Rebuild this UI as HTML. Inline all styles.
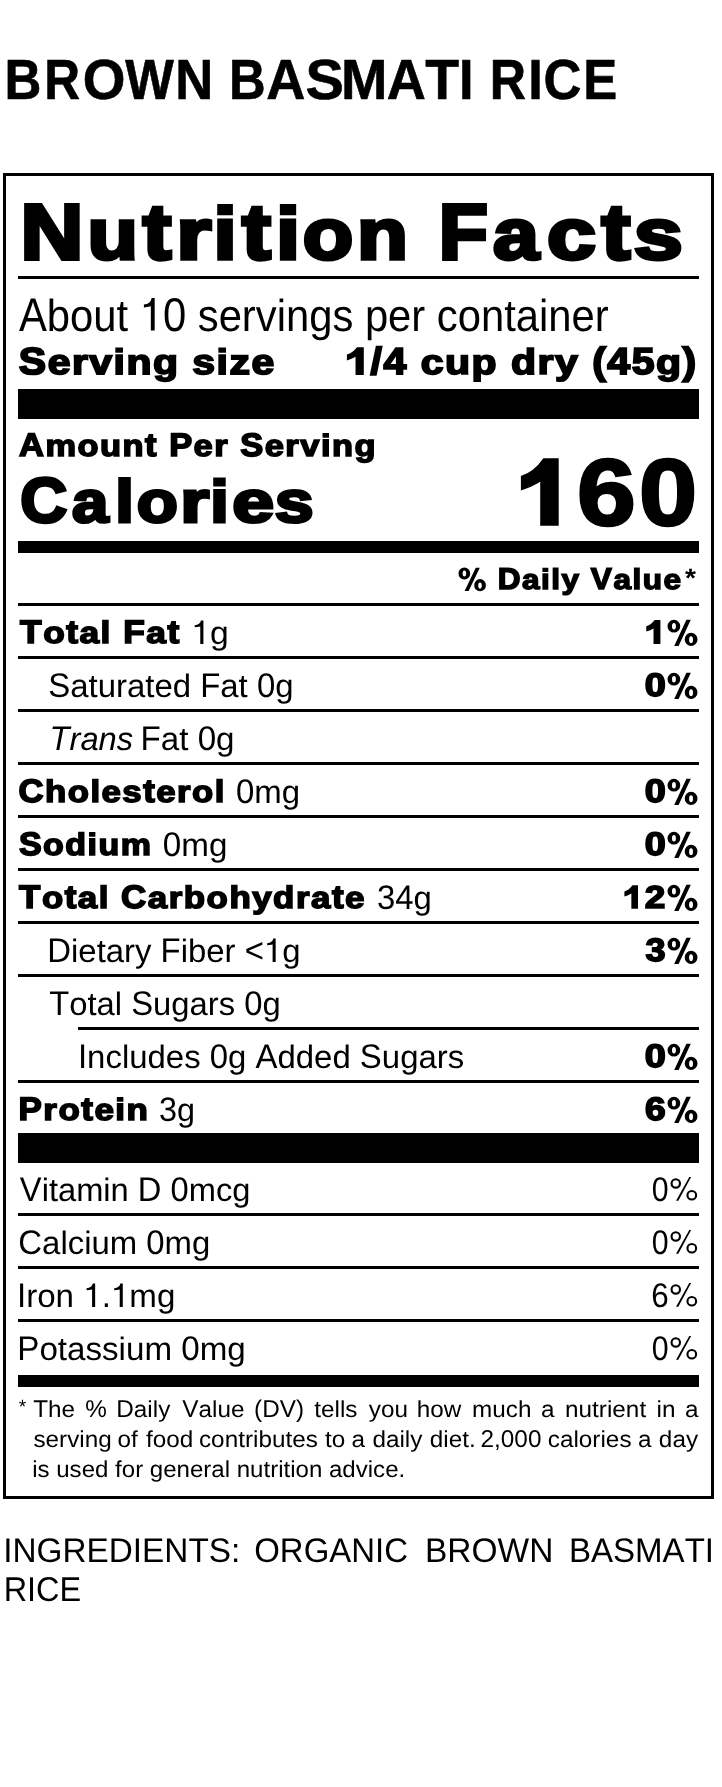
<!DOCTYPE html>
<html><head><meta charset="utf-8"><title>Brown Basmati Rice - Nutrition Facts</title>
<style>
html,body{margin:0;padding:0;background:#fff;width:722px;height:1787px;overflow:hidden}
svg{display:block;will-change:transform}
text{font-family:"Liberation Sans",sans-serif;font-kerning:none;fill:#000;text-rendering:geometricPrecision}
.r{font-weight:normal}
.i{font-weight:normal;font-style:italic}
.b{font-weight:bold;stroke:#000;stroke-miterlimit:3}
.bn{font-weight:bold}
</style></head><body>
<svg width="722" height="1787" viewBox="0 0 722 1787">
<g class="b" font-size="56.54" stroke-width="0.60"><text transform="translate(4.45 99.20) scale(0.9036 1.0000)">B</text><text transform="translate(44.15 99.20) scale(0.8769 1.0000)">R</text><text transform="translate(82.64 99.20) scale(0.9703 1.0000)">O</text><text transform="translate(125.22 99.20) scale(0.9098 1.0000)">W</text><text transform="translate(175.26 99.20) scale(0.9308 1.0000)">N</text><text transform="translate(229.07 99.20) scale(0.8979 1.0000)">B</text><text transform="translate(266.24 99.20) scale(0.9576 1.0000)">A</text><text transform="translate(305.55 99.20) scale(1.0181 1.0000)">S</text><text transform="translate(341.06 99.20) scale(0.9867 1.0000)">M</text><text transform="translate(386.64 99.20) scale(0.9576 1.0000)">A</text><text transform="translate(425.17 99.20) scale(0.9795 1.0000)">T</text><text transform="translate(458.97 99.20) scale(0.9263 1.0000)">I</text><text transform="translate(489.71 99.20) scale(0.8879 1.0000)">R</text><text transform="translate(528.27 99.20) scale(0.9263 1.0000)">I</text><text transform="translate(543.43 99.20) scale(0.9263 1.0000)">C</text><text transform="translate(583.26 99.20) scale(0.9003 1.0000)">E</text></g>
<rect x="4.5" y="174.5" width="708" height="1323" fill="none" stroke="#000" stroke-width="3"/>
<g class="b" font-size="78.64" stroke-width="4.00"><text transform="translate(20.59 258.80) scale(1.1069 1.0000)">N</text><text transform="translate(87.58 258.80) scale(1.0507 0.9120)">u</text><text transform="translate(142.73 258.80) scale(1.0896 1.0000)">t</text><text transform="translate(176.25 258.80) scale(1.1478 0.9120)">r</text><text transform="translate(213.59 258.80) scale(1.0616 0.9325)">i</text><text transform="translate(241.94 258.80) scale(1.1003 1.0000)">t</text><text transform="translate(276.05 258.80) scale(1.1021 0.9325)">i</text><text transform="translate(302.87 258.80) scale(1.0503 0.9120)">o</text><text transform="translate(356.92 258.80) scale(1.0602 0.9120)">n</text><text transform="translate(438.66 258.80) scale(1.0229 1.0000)">F</text><text transform="translate(492.88 258.80) scale(1.0495 0.9120)">a</text><text transform="translate(547.10 258.80) scale(1.1190 0.9120)">c</text><text transform="translate(601.44 258.80) scale(1.1003 1.0000)">t</text><text transform="translate(633.64 258.80) scale(1.1211 0.9120)">s</text></g>
<rect x="18" y="276" width="681" height="3"/>
<path d="M 151.67 298.00 L 154.69 298.00 L 154.69 330.60 L 150.83 330.60 L 150.83 306.15 Q 147.14 307.13 143.91 307.45 L 143.91 304.52 Q 150.59 304.10 151.67 298.00 Z"/>
<g class="r" font-size="47.38"><text transform="translate(18.92 330.60) scale(0.8815 1.0000)">A</text><text transform="translate(46.78 330.60) scale(0.8815 0.9500)">b</text><text transform="translate(70.01 330.60) scale(0.8815 0.9500)">o</text><text transform="translate(93.24 330.60) scale(0.8815 0.9500)">u</text><text transform="translate(116.47 330.60) scale(0.8815 0.9500)">t</text><text transform="translate(162.91 330.60) scale(0.8815 1.0000)">0</text><text transform="translate(197.75 330.60) scale(0.8815 0.9500)">s</text><text transform="translate(218.63 330.60) scale(0.8815 0.9500)">e</text><text transform="translate(241.86 330.60) scale(0.8815 0.9500)">r</text><text transform="translate(255.77 330.60) scale(0.8815 0.9500)">v</text><text transform="translate(276.66 330.60) scale(0.8815 0.9500)">i</text><text transform="translate(285.94 330.60) scale(0.8815 0.9500)">n</text><text transform="translate(309.17 330.60) scale(0.8815 0.9500)">g</text><text transform="translate(332.40 330.60) scale(0.8815 0.9500)">s</text><text transform="translate(364.89 330.60) scale(0.8815 0.9500)">p</text><text transform="translate(388.12 330.60) scale(0.8815 0.9500)">e</text><text transform="translate(411.35 330.60) scale(0.8815 0.9500)">r</text><text transform="translate(436.86 330.60) scale(0.8815 0.9500)">c</text><text transform="translate(457.75 330.60) scale(0.8815 0.9500)">o</text><text transform="translate(480.98 330.60) scale(0.8815 0.9500)">n</text><text transform="translate(504.21 330.60) scale(0.8815 0.9500)">t</text><text transform="translate(515.81 330.60) scale(0.8815 0.9500)">a</text><text transform="translate(539.04 330.60) scale(0.8815 0.9500)">i</text><text transform="translate(548.32 330.60) scale(0.8815 0.9500)">n</text><text transform="translate(571.55 330.60) scale(0.8815 0.9500)">e</text><text transform="translate(594.78 330.60) scale(0.8815 0.9500)">r</text></g>
<g class="b" font-size="37.78" stroke-width="1.91"><text transform="translate(18.86 373.94) scale(1.0835 1.0000)">S</text><text transform="translate(47.66 373.94) scale(1.0835 0.9250)">e</text><text transform="translate(71.92 373.94) scale(1.0835 0.9250)">r</text><text transform="translate(89.35 373.94) scale(1.0835 0.9250)">v</text><text transform="translate(113.61 373.94) scale(1.0835 0.9390)">i</text><text transform="translate(126.48 373.94) scale(1.0835 0.9250)">n</text><text transform="translate(152.99 373.94) scale(1.0835 0.9250)">g</text><text transform="translate(192.36 373.94) scale(1.0835 0.9250)">s</text><text transform="translate(216.62 373.94) scale(1.0835 0.9390)">i</text><text transform="translate(229.49 373.94) scale(1.0835 0.9250)">z</text><text transform="translate(251.46 373.94) scale(1.0835 0.9250)">e</text></g>
<path d="M 356.96 347.20 L 363.80 347.20 L 363.80 374.90 L 355.54 374.90 L 355.54 356.87 Q 351.87 359.04 346.90 360.39 L 346.90 354.46 Q 352.71 352.82 356.96 347.20 Z"/>
<g class="b" font-size="37.52" stroke-width="1.89"><text transform="translate(370.53 373.95) scale(1.0934 1.0000)">/</text><text transform="translate(383.43 373.95) scale(1.0934 1.0000)">4</text><text transform="translate(420.64 373.95) scale(1.0934 0.9250)">c</text><text transform="translate(444.95 373.95) scale(1.0934 0.9250)">u</text><text transform="translate(471.51 373.95) scale(1.0934 0.9250)">p</text><text transform="translate(510.96 373.95) scale(1.0934 0.9530)">d</text><text transform="translate(537.51 373.95) scale(1.0934 0.9250)">r</text><text transform="translate(554.98 373.95) scale(1.0934 0.9250)">y</text><text transform="translate(592.19 373.95) scale(1.0934 1.0000)">(</text><text transform="translate(607.35 373.95) scale(1.0934 1.0000)">4</text><text transform="translate(631.66 373.95) scale(1.0934 1.0000)">5</text><text transform="translate(655.97 373.95) scale(1.0934 0.9250)">g</text><text transform="translate(682.53 373.95) scale(1.0934 1.0000)">)</text></g>
<rect x="18" y="389" width="681" height="30"/>
<g class="b" font-size="32.50" stroke-width="1.64"><text transform="translate(19.01 456.18) scale(1.0595 1.0000)">A</text><text transform="translate(45.38 456.18) scale(1.0595 0.9250)">m</text><text transform="translate(77.50 456.18) scale(1.0595 0.9250)">o</text><text transform="translate(100.03 456.18) scale(1.0595 0.9250)">u</text><text transform="translate(122.57 456.18) scale(1.0595 0.9250)">n</text><text transform="translate(145.10 456.18) scale(1.0595 1.0000)">t</text><text transform="translate(169.14 456.18) scale(1.0595 1.0000)">P</text><text transform="translate(193.60 456.18) scale(1.0595 0.9250)">e</text><text transform="translate(214.26 456.18) scale(1.0595 0.9250)">r</text><text transform="translate(240.22 456.18) scale(1.0595 1.0000)">S</text><text transform="translate(264.69 456.18) scale(1.0595 0.9250)">e</text><text transform="translate(285.34 456.18) scale(1.0595 0.9250)">r</text><text transform="translate(300.24 456.18) scale(1.0595 0.9250)">v</text><text transform="translate(320.90 456.18) scale(1.0595 0.9390)">i</text><text transform="translate(331.96 456.18) scale(1.0595 0.9250)">n</text><text transform="translate(354.50 456.18) scale(1.0595 0.9250)">g</text></g>
<g class="b" font-size="63.08" stroke-width="3.20"><text transform="translate(20.18 522.00) scale(1.0305 1.0000)">C</text><text transform="translate(71.94 522.00) scale(1.0370 0.9290)">a</text><text transform="translate(115.22 522.00) scale(1.0628 0.9530)">l</text><text transform="translate(136.68 522.00) scale(1.0678 0.9290)">o</text><text transform="translate(180.18 522.00) scale(1.1795 0.9290)">r</text><text transform="translate(210.34 522.00) scale(1.0544 0.9410)">i</text><text transform="translate(232.17 522.00) scale(1.1912 0.9290)">e</text><text transform="translate(274.72 522.00) scale(1.1082 0.9290)">s</text></g>
<path d="M 543.39 458.20 L 558.70 458.20 L 558.70 525.80 L 540.22 525.80 L 540.22 481.79 Q 532.01 487.10 520.90 490.38 L 520.90 475.91 Q 533.90 471.92 543.39 458.20 Z"/>
<g class="b" font-size="94.48" stroke-width="2.60"><text transform="translate(576.88 524.50) scale(1.1187 1.0000)">6</text><text transform="translate(638.90 524.50) scale(1.1066 1.0000)">0</text></g>
<rect x="18" y="541" width="681" height="12"/>
<path fill-rule="evenodd" d="M458.50 573.49a5.84 5.69 0 1 0 11.67 0a5.84 5.69 0 1 0 -11.67 0ZM462.61 573.49a1.78 2.94 0 1 0 3.56 0a1.78 2.94 0 1 0 -3.56 0ZM474.23 585.23a5.84 5.87 0 1 0 11.67 0a5.84 5.87 0 1 0 -11.67 0ZM478.23 585.46a1.78 3.08 0 1 0 3.56 0a1.78 3.08 0 1 0 -3.56 0ZM475.76 567.80 479.79 567.80 468.64 591.10 464.61 591.10Z"/>
<g class="b" font-size="30.06" stroke-width="1.52"><text transform="translate(497.69 589.24) scale(1.0497 1.0000)">D</text><text transform="translate(521.97 589.24) scale(1.0497 0.9250)">a</text><text transform="translate(541.02 589.24) scale(1.0497 0.9390)">i</text><text transform="translate(551.29 589.24) scale(1.0497 0.9530)">l</text><text transform="translate(561.56 589.24) scale(1.0497 0.9250)">y</text><text transform="translate(590.87 589.24) scale(1.0497 1.0000)">V</text><text transform="translate(613.42 589.24) scale(1.0497 0.9250)">a</text><text transform="translate(632.47 589.24) scale(1.0497 0.9530)">l</text><text transform="translate(642.73 589.24) scale(1.0497 0.9250)">u</text><text transform="translate(663.51 589.24) scale(1.0497 0.9250)">e</text></g>
<text class="bn" font-size="26.6" transform="translate(684.9 586.5) scale(1.06 1)">*</text>
<rect x="18" y="603" width="681" height="3"/>
<g class="b" font-size="32.50" stroke-width="1.64"><text transform="translate(20.09 643.18) scale(1.0862 1.0000)">T</text><text transform="translate(43.16 643.18) scale(1.0862 0.9250)">o</text><text transform="translate(66.22 643.18) scale(1.0862 1.0000)">t</text><text transform="translate(79.48 643.18) scale(1.0862 0.9250)">a</text><text transform="translate(100.61 643.18) scale(1.0862 0.9530)">l</text><text transform="translate(123.23 643.18) scale(1.0862 1.0000)">F</text><text transform="translate(146.29 643.18) scale(1.0862 0.9250)">a</text><text transform="translate(167.43 643.18) scale(1.0862 1.0000)">t</text></g>
<path d="M 200.96 620.50 L 203.40 620.50 L 203.40 644.00 L 200.28 644.00 L 200.28 626.38 Q 197.31 627.08 194.70 627.32 L 194.70 625.20 Q 200.09 624.89 200.96 620.50 Z"/>
<g class="r" font-size="34.16"><text transform="translate(210.03 644.00) scale(0.9866 0.9500)">g</text></g>
<path d="M 654.69 620.00 L 660.40 620.00 L 660.40 644.00 L 653.51 644.00 L 653.51 628.38 Q 650.45 630.26 646.30 631.42 L 646.30 626.29 Q 651.15 624.87 654.69 620.00 Z"/>
<path fill-rule="evenodd" d="M667.50 626.19a6.39 6.39 0 1 0 12.78 0a6.39 6.39 0 1 0 -12.78 0ZM672.00 626.19a1.95 3.30 0 1 0 3.90 0a1.95 3.30 0 1 0 -3.90 0ZM684.72 639.40a6.39 6.60 0 1 0 12.78 0a6.39 6.60 0 1 0 -12.78 0ZM689.10 639.66a1.95 3.46 0 1 0 3.90 0a1.95 3.46 0 1 0 -3.90 0ZM686.40 619.80 690.81 619.80 678.60 646.00 674.19 646.00Z"/>
<rect x="18" y="656" width="681" height="3"/>
<g class="r" font-size="34.16"><text transform="translate(48.20 697.00) scale(0.9641 1.0000)">S</text><text transform="translate(70.17 697.00) scale(0.9641 0.9500)">a</text><text transform="translate(88.49 697.00) scale(0.9641 0.9500)">t</text><text transform="translate(97.63 697.00) scale(0.9641 0.9500)">u</text><text transform="translate(115.95 697.00) scale(0.9641 0.9500)">r</text><text transform="translate(126.92 697.00) scale(0.9641 0.9500)">a</text><text transform="translate(145.23 697.00) scale(0.9641 0.9500)">t</text><text transform="translate(154.38 697.00) scale(0.9641 0.9500)">e</text><text transform="translate(172.70 697.00) scale(0.9641 0.9500)">d</text><text transform="translate(200.16 697.00) scale(0.9641 1.0000)">F</text><text transform="translate(220.28 697.00) scale(0.9641 0.9500)">a</text><text transform="translate(238.59 697.00) scale(0.9641 0.9500)">t</text><text transform="translate(256.89 697.00) scale(0.9641 1.0000)">0</text><text transform="translate(275.21 697.00) scale(0.9641 0.9500)">g</text></g>
<g class="b" font-size="32.50" stroke-width="1.64"><text transform="translate(644.76 696.18) scale(1.1619 1.0000)">0</text></g>
<path fill-rule="evenodd" d="M667.50 679.19a6.39 6.39 0 1 0 12.78 0a6.39 6.39 0 1 0 -12.78 0ZM672.00 679.19a1.95 3.30 0 1 0 3.90 0a1.95 3.30 0 1 0 -3.90 0ZM684.72 692.40a6.39 6.60 0 1 0 12.78 0a6.39 6.60 0 1 0 -12.78 0ZM689.10 692.66a1.95 3.46 0 1 0 3.90 0a1.95 3.46 0 1 0 -3.90 0ZM686.40 672.80 690.81 672.80 678.60 699.00 674.19 699.00Z"/>
<rect x="18" y="709" width="681" height="3"/>
<g class="i" font-size="34.16"><text transform="translate(49.56 750.00) scale(0.9576 1.0000)">T</text><text transform="translate(69.54 750.00) scale(0.9576 0.9500)">r</text><text transform="translate(80.43 750.00) scale(0.9576 0.9500)">a</text><text transform="translate(98.62 750.00) scale(0.9576 0.9500)">n</text><text transform="translate(116.82 750.00) scale(0.9576 0.9500)">s</text></g>
<g class="r" font-size="34.16"><text transform="translate(140.58 750.00) scale(0.9703 1.0000)">F</text><text transform="translate(160.83 750.00) scale(0.9703 0.9500)">a</text><text transform="translate(179.26 750.00) scale(0.9703 0.9500)">t</text><text transform="translate(197.67 750.00) scale(0.9703 1.0000)">0</text><text transform="translate(216.10 750.00) scale(0.9703 0.9500)">g</text></g>
<rect x="18" y="762" width="681" height="3"/>
<g class="b" font-size="32.50" stroke-width="1.64"><text transform="translate(18.45 802.18) scale(1.0680 1.0000)">C</text><text transform="translate(45.02 802.18) scale(1.0680 0.9530)">h</text><text transform="translate(67.72 802.18) scale(1.0680 0.9250)">o</text><text transform="translate(90.42 802.18) scale(1.0680 0.9530)">l</text><text transform="translate(101.57 802.18) scale(1.0680 0.9250)">e</text><text transform="translate(122.37 802.18) scale(1.0680 0.9250)">s</text><text transform="translate(143.18 802.18) scale(1.0680 1.0000)">t</text><text transform="translate(156.23 802.18) scale(1.0680 0.9250)">e</text><text transform="translate(177.04 802.18) scale(1.0680 0.9250)">r</text><text transform="translate(192.05 802.18) scale(1.0680 0.9250)">o</text><text transform="translate(214.75 802.18) scale(1.0680 0.9530)">l</text></g>
<g class="r" font-size="34.16"><text transform="translate(236.01 803.00) scale(0.9649 1.0000)">0</text><text transform="translate(254.34 803.00) scale(0.9649 0.9500)">m</text><text transform="translate(281.80 803.00) scale(0.9649 0.9500)">g</text></g>
<g class="b" font-size="32.50" stroke-width="1.64"><text transform="translate(644.76 802.18) scale(1.1619 1.0000)">0</text></g>
<path fill-rule="evenodd" d="M667.50 785.19a6.39 6.39 0 1 0 12.78 0a6.39 6.39 0 1 0 -12.78 0ZM672.00 785.19a1.95 3.30 0 1 0 3.90 0a1.95 3.30 0 1 0 -3.90 0ZM684.72 798.40a6.39 6.60 0 1 0 12.78 0a6.39 6.60 0 1 0 -12.78 0ZM689.10 798.66a1.95 3.46 0 1 0 3.90 0a1.95 3.46 0 1 0 -3.90 0ZM686.40 778.80 690.81 778.80 678.60 805.00 674.19 805.00Z"/>
<rect x="18" y="815" width="681" height="3"/>
<g class="b" font-size="32.50" stroke-width="1.64"><text transform="translate(18.88 855.18) scale(1.0460 1.0000)">S</text><text transform="translate(43.05 855.18) scale(1.0460 0.9250)">o</text><text transform="translate(65.32 855.18) scale(1.0460 0.9530)">d</text><text transform="translate(87.59 855.18) scale(1.0460 0.9390)">i</text><text transform="translate(98.53 855.18) scale(1.0460 0.9250)">u</text><text transform="translate(120.80 855.18) scale(1.0460 0.9250)">m</text></g>
<g class="r" font-size="34.16"><text transform="translate(162.80 856.00) scale(0.9728 1.0000)">0</text><text transform="translate(181.28 856.00) scale(0.9728 0.9500)">m</text><text transform="translate(208.96 856.00) scale(0.9728 0.9500)">g</text></g>
<g class="b" font-size="32.50" stroke-width="1.64"><text transform="translate(644.76 855.18) scale(1.1619 1.0000)">0</text></g>
<path fill-rule="evenodd" d="M667.50 838.19a6.39 6.39 0 1 0 12.78 0a6.39 6.39 0 1 0 -12.78 0ZM672.00 838.19a1.95 3.30 0 1 0 3.90 0a1.95 3.30 0 1 0 -3.90 0ZM684.72 851.40a6.39 6.60 0 1 0 12.78 0a6.39 6.60 0 1 0 -12.78 0ZM689.10 851.66a1.95 3.46 0 1 0 3.90 0a1.95 3.46 0 1 0 -3.90 0ZM686.40 831.80 690.81 831.80 678.60 858.00 674.19 858.00Z"/>
<rect x="18" y="868" width="681" height="3"/>
<g class="b" font-size="32.50" stroke-width="1.64"><text transform="translate(19.09 908.18) scale(1.0734 1.0000)">T</text><text transform="translate(41.90 908.18) scale(1.0734 0.9250)">o</text><text transform="translate(64.71 908.18) scale(1.0734 1.0000)">t</text><text transform="translate(77.83 908.18) scale(1.0734 0.9250)">a</text><text transform="translate(98.73 908.18) scale(1.0734 0.9530)">l</text><text transform="translate(121.12 908.18) scale(1.0734 1.0000)">C</text><text transform="translate(147.81 908.18) scale(1.0734 0.9250)">a</text><text transform="translate(168.71 908.18) scale(1.0734 0.9250)">r</text><text transform="translate(183.79 908.18) scale(1.0734 0.9530)">b</text><text transform="translate(206.60 908.18) scale(1.0734 0.9250)">o</text><text transform="translate(229.41 908.18) scale(1.0734 0.9530)">h</text><text transform="translate(252.22 908.18) scale(1.0734 0.9250)">y</text><text transform="translate(273.12 908.18) scale(1.0734 0.9530)">d</text><text transform="translate(295.93 908.18) scale(1.0734 0.9250)">r</text><text transform="translate(311.01 908.18) scale(1.0734 0.9250)">a</text><text transform="translate(331.91 908.18) scale(1.0734 1.0000)">t</text><text transform="translate(345.03 908.18) scale(1.0734 0.9250)">e</text></g>
<g class="r" font-size="34.16"><text transform="translate(376.95 909.00) scale(0.9628 1.0000)">3</text><text transform="translate(395.24 909.00) scale(0.9628 1.0000)">4</text><text transform="translate(413.53 909.00) scale(0.9628 0.9500)">g</text></g>
<path d="M 632.49 885.30 L 638.00 885.30 L 638.00 908.80 L 631.35 908.80 L 631.35 893.50 Q 628.40 895.35 624.40 896.49 L 624.40 891.46 Q 629.08 890.07 632.49 885.30 Z"/>
<g class="b" font-size="31.82" stroke-width="1.61"><text transform="translate(644.65 908.00) scale(1.1614 1.0000)">2</text></g>
<path fill-rule="evenodd" d="M667.50 891.19a6.39 6.39 0 1 0 12.78 0a6.39 6.39 0 1 0 -12.78 0ZM672.00 891.19a1.95 3.30 0 1 0 3.90 0a1.95 3.30 0 1 0 -3.90 0ZM684.72 904.40a6.39 6.60 0 1 0 12.78 0a6.39 6.60 0 1 0 -12.78 0ZM689.10 904.66a1.95 3.46 0 1 0 3.90 0a1.95 3.46 0 1 0 -3.90 0ZM686.40 884.80 690.81 884.80 678.60 911.00 674.19 911.00Z"/>
<rect x="18" y="921" width="681" height="3"/>
<path d="M 273.28 938.50 L 275.66 938.50 L 275.66 962.00 L 272.62 962.00 L 272.62 944.38 Q 269.72 945.08 267.17 945.32 L 267.17 943.20 Q 272.43 942.89 273.28 938.50 Z"/>
<g class="r" font-size="34.16"><text transform="translate(47.30 962.00) scale(0.9627 1.0000)">D</text><text transform="translate(71.05 962.00) scale(0.9627 0.9500)">i</text><text transform="translate(78.35 962.00) scale(0.9627 0.9500)">e</text><text transform="translate(96.64 962.00) scale(0.9627 0.9500)">t</text><text transform="translate(105.78 962.00) scale(0.9627 0.9500)">a</text><text transform="translate(124.06 962.00) scale(0.9627 0.9500)">r</text><text transform="translate(135.01 962.00) scale(0.9627 0.9500)">y</text><text transform="translate(160.59 962.00) scale(0.9627 1.0000)">F</text><text transform="translate(180.68 962.00) scale(0.9627 0.9500)">i</text><text transform="translate(187.98 962.00) scale(0.9627 0.9500)">b</text><text transform="translate(206.27 962.00) scale(0.9627 0.9500)">e</text><text transform="translate(224.56 962.00) scale(0.9627 0.9500)">r</text><text transform="translate(244.64 962.00) scale(0.9627 1.0000)">&lt;</text><text transform="translate(282.13 962.00) scale(0.9627 0.9500)">g</text></g>
<g class="b" font-size="32.50" stroke-width="1.64"><text transform="translate(645.38 961.18) scale(1.1117 1.0000)">3</text></g>
<path fill-rule="evenodd" d="M667.50 944.19a6.39 6.39 0 1 0 12.78 0a6.39 6.39 0 1 0 -12.78 0ZM672.00 944.19a1.95 3.30 0 1 0 3.90 0a1.95 3.30 0 1 0 -3.90 0ZM684.72 957.40a6.39 6.60 0 1 0 12.78 0a6.39 6.60 0 1 0 -12.78 0ZM689.10 957.66a1.95 3.46 0 1 0 3.90 0a1.95 3.46 0 1 0 -3.90 0ZM686.40 937.80 690.81 937.80 678.60 964.00 674.19 964.00Z"/>
<rect x="18" y="974" width="681" height="3"/>
<g class="r" font-size="34.16"><text transform="translate(49.26 1015.00) scale(0.9594 1.0000)">T</text><text transform="translate(69.28 1015.00) scale(0.9594 0.9500)">o</text><text transform="translate(87.51 1015.00) scale(0.9594 0.9500)">t</text><text transform="translate(96.61 1015.00) scale(0.9594 0.9500)">a</text><text transform="translate(114.84 1015.00) scale(0.9594 0.9500)">l</text><text transform="translate(131.22 1015.00) scale(0.9594 1.0000)">S</text><text transform="translate(153.08 1015.00) scale(0.9594 0.9500)">u</text><text transform="translate(171.31 1015.00) scale(0.9594 0.9500)">g</text><text transform="translate(189.53 1015.00) scale(0.9594 0.9500)">a</text><text transform="translate(207.76 1015.00) scale(0.9594 0.9500)">r</text><text transform="translate(218.67 1015.00) scale(0.9594 0.9500)">s</text><text transform="translate(244.16 1015.00) scale(0.9594 1.0000)">0</text><text transform="translate(262.39 1015.00) scale(0.9594 0.9500)">g</text></g>
<rect x="78" y="1027" width="621" height="3"/>
<g class="r" font-size="34.16"><text transform="translate(77.96 1068.00) scale(0.9639 1.0000)">I</text><text transform="translate(87.11 1068.00) scale(0.9639 0.9500)">n</text><text transform="translate(105.42 1068.00) scale(0.9639 0.9500)">c</text><text transform="translate(121.88 1068.00) scale(0.9639 0.9500)">l</text><text transform="translate(129.20 1068.00) scale(0.9639 0.9500)">u</text><text transform="translate(147.51 1068.00) scale(0.9639 0.9500)">d</text><text transform="translate(165.82 1068.00) scale(0.9639 0.9500)">e</text><text transform="translate(184.13 1068.00) scale(0.9639 0.9500)">s</text><text transform="translate(209.74 1068.00) scale(0.9639 1.0000)">0</text><text transform="translate(228.05 1068.00) scale(0.9639 0.9500)">g</text><text transform="translate(255.51 1068.00) scale(0.9639 1.0000)">A</text><text transform="translate(277.47 1068.00) scale(0.9639 0.9500)">d</text><text transform="translate(295.79 1068.00) scale(0.9639 0.9500)">d</text><text transform="translate(314.10 1068.00) scale(0.9639 0.9500)">e</text><text transform="translate(332.41 1068.00) scale(0.9639 0.9500)">d</text><text transform="translate(359.87 1068.00) scale(0.9639 1.0000)">S</text><text transform="translate(381.83 1068.00) scale(0.9639 0.9500)">u</text><text transform="translate(400.14 1068.00) scale(0.9639 0.9500)">g</text><text transform="translate(418.45 1068.00) scale(0.9639 0.9500)">a</text><text transform="translate(436.76 1068.00) scale(0.9639 0.9500)">r</text><text transform="translate(447.73 1068.00) scale(0.9639 0.9500)">s</text></g>
<g class="b" font-size="32.50" stroke-width="1.64"><text transform="translate(644.76 1067.18) scale(1.1619 1.0000)">0</text></g>
<path fill-rule="evenodd" d="M667.50 1050.19a6.39 6.39 0 1 0 12.78 0a6.39 6.39 0 1 0 -12.78 0ZM672.00 1050.19a1.95 3.30 0 1 0 3.90 0a1.95 3.30 0 1 0 -3.90 0ZM684.72 1063.40a6.39 6.60 0 1 0 12.78 0a6.39 6.60 0 1 0 -12.78 0ZM689.10 1063.66a1.95 3.46 0 1 0 3.90 0a1.95 3.46 0 1 0 -3.90 0ZM686.40 1043.80 690.81 1043.80 678.60 1070.00 674.19 1070.00Z"/>
<rect x="18" y="1080" width="681" height="3"/>
<g class="b" font-size="32.50" stroke-width="1.64"><text transform="translate(18.54 1120.18) scale(1.0751 1.0000)">P</text><text transform="translate(43.35 1120.18) scale(1.0751 0.9250)">r</text><text transform="translate(58.45 1120.18) scale(1.0751 0.9250)">o</text><text transform="translate(81.29 1120.18) scale(1.0751 1.0000)">t</text><text transform="translate(94.43 1120.18) scale(1.0751 0.9250)">e</text><text transform="translate(115.36 1120.18) scale(1.0751 0.9390)">i</text><text transform="translate(126.57 1120.18) scale(1.0751 0.9250)">n</text></g>
<g class="r" font-size="34.16"><text transform="translate(158.97 1121.00) scale(0.9481 1.0000)">3</text><text transform="translate(176.98 1121.00) scale(0.9481 0.9500)">g</text></g>
<g class="b" font-size="32.50" stroke-width="1.64"><text transform="translate(644.88 1120.18) scale(1.1432 1.0000)">6</text></g>
<path fill-rule="evenodd" d="M667.50 1103.19a6.39 6.39 0 1 0 12.78 0a6.39 6.39 0 1 0 -12.78 0ZM672.00 1103.19a1.95 3.30 0 1 0 3.90 0a1.95 3.30 0 1 0 -3.90 0ZM684.72 1116.40a6.39 6.60 0 1 0 12.78 0a6.39 6.60 0 1 0 -12.78 0ZM689.10 1116.66a1.95 3.46 0 1 0 3.90 0a1.95 3.46 0 1 0 -3.90 0ZM686.40 1096.80 690.81 1096.80 678.60 1123.00 674.19 1123.00Z"/>
<rect x="18" y="1133" width="681" height="30"/>
<g class="r" font-size="34.16"><text transform="translate(19.86 1201.00) scale(0.9564 1.0000)">V</text><text transform="translate(41.64 1201.00) scale(0.9564 0.9500)">i</text><text transform="translate(48.90 1201.00) scale(0.9564 0.9500)">t</text><text transform="translate(57.98 1201.00) scale(0.9564 0.9500)">a</text><text transform="translate(76.15 1201.00) scale(0.9564 0.9500)">m</text><text transform="translate(103.36 1201.00) scale(0.9564 0.9500)">i</text><text transform="translate(110.61 1201.00) scale(0.9564 0.9500)">n</text><text transform="translate(137.86 1201.00) scale(0.9564 1.0000)">D</text><text transform="translate(170.53 1201.00) scale(0.9564 1.0000)">0</text><text transform="translate(188.69 1201.00) scale(0.9564 0.9500)">m</text><text transform="translate(215.90 1201.00) scale(0.9564 0.9500)">c</text><text transform="translate(232.24 1201.00) scale(0.9564 0.9500)">g</text></g>
<g class="r" font-size="34.16"><text transform="translate(651.72 1201.00) scale(0.8880 1.0000)">0</text></g>
<path fill-rule="evenodd" d="M670.50 1183.45a5.26 5.26 0 1 0 10.52 0a5.26 5.26 0 1 0 -10.52 0ZM672.61 1183.45a3.15 3.13 0 1 0 6.30 0a3.15 3.13 0 1 0 -6.30 0ZM686.41 1195.20a5.39 5.19 0 1 0 10.79 0a5.39 5.19 0 1 0 -10.79 0ZM688.55 1195.20a3.26 3.03 0 1 0 6.51 0a3.26 3.03 0 1 0 -6.51 0ZM689.27 1177.00 691.11 1177.00 678.32 1200.70 676.05 1200.70Z"/>
<rect x="18" y="1213" width="681" height="3"/>
<g class="r" font-size="34.16"><text transform="translate(18.33 1254.00) scale(0.9633 1.0000)">C</text><text transform="translate(42.09 1254.00) scale(0.9633 0.9500)">a</text><text transform="translate(60.39 1254.00) scale(0.9633 0.9500)">l</text><text transform="translate(67.70 1254.00) scale(0.9633 0.9500)">c</text><text transform="translate(84.15 1254.00) scale(0.9633 0.9500)">i</text><text transform="translate(91.46 1254.00) scale(0.9633 0.9500)">u</text><text transform="translate(109.76 1254.00) scale(0.9633 0.9500)">m</text><text transform="translate(146.31 1254.00) scale(0.9633 1.0000)">0</text><text transform="translate(164.61 1254.00) scale(0.9633 0.9500)">m</text><text transform="translate(192.02 1254.00) scale(0.9633 0.9500)">g</text></g>
<g class="r" font-size="34.16"><text transform="translate(651.72 1254.00) scale(0.8880 1.0000)">0</text></g>
<path fill-rule="evenodd" d="M670.50 1236.45a5.26 5.26 0 1 0 10.52 0a5.26 5.26 0 1 0 -10.52 0ZM672.61 1236.45a3.15 3.13 0 1 0 6.30 0a3.15 3.13 0 1 0 -6.30 0ZM686.41 1248.20a5.39 5.19 0 1 0 10.79 0a5.39 5.19 0 1 0 -10.79 0ZM688.55 1248.20a3.26 3.03 0 1 0 6.51 0a3.26 3.03 0 1 0 -6.51 0ZM689.27 1230.00 691.11 1230.00 678.32 1253.70 676.05 1253.70Z"/>
<rect x="18" y="1266" width="681" height="3"/>
<path d="M 92.75 1283.50 L 95.15 1283.50 L 95.15 1307.00 L 92.09 1307.00 L 92.09 1289.38 Q 89.16 1290.08 86.60 1290.32 L 86.60 1288.20 Q 91.90 1287.89 92.75 1283.50 Z"/>
<path d="M 120.39 1283.50 L 122.78 1283.50 L 122.78 1307.00 L 119.72 1307.00 L 119.72 1289.38 Q 116.80 1290.08 114.23 1290.32 L 114.23 1288.20 Q 119.53 1287.89 120.39 1283.50 Z"/>
<g class="r" font-size="34.16"><text transform="translate(16.94 1307.00) scale(0.9701 1.0000)">I</text><text transform="translate(26.15 1307.00) scale(0.9701 0.9500)">r</text><text transform="translate(37.18 1307.00) scale(0.9701 0.9500)">o</text><text transform="translate(55.61 1307.00) scale(0.9701 0.9500)">n</text><text transform="translate(101.67 1307.00) scale(0.9701 1.0000)">.</text><text transform="translate(129.31 1307.00) scale(0.9701 0.9500)">m</text><text transform="translate(156.91 1307.00) scale(0.9701 0.9500)">g</text></g>
<g class="r" font-size="34.16"><text transform="translate(651.30 1307.00) scale(0.9200 1.0000)">6</text></g>
<path fill-rule="evenodd" d="M670.50 1289.45a5.26 5.26 0 1 0 10.52 0a5.26 5.26 0 1 0 -10.52 0ZM672.61 1289.45a3.15 3.13 0 1 0 6.30 0a3.15 3.13 0 1 0 -6.30 0ZM686.41 1301.20a5.39 5.19 0 1 0 10.79 0a5.39 5.19 0 1 0 -10.79 0ZM688.55 1301.20a3.26 3.03 0 1 0 6.51 0a3.26 3.03 0 1 0 -6.51 0ZM689.27 1283.00 691.11 1283.00 678.32 1306.70 676.05 1306.70Z"/>
<rect x="18" y="1319" width="681" height="3"/>
<g class="r" font-size="34.16"><text transform="translate(17.28 1360.00) scale(0.9705 1.0000)">P</text><text transform="translate(39.39 1360.00) scale(0.9705 0.9500)">o</text><text transform="translate(57.83 1360.00) scale(0.9705 0.9500)">t</text><text transform="translate(67.04 1360.00) scale(0.9705 0.9500)">a</text><text transform="translate(85.47 1360.00) scale(0.9705 0.9500)">s</text><text transform="translate(102.05 1360.00) scale(0.9705 0.9500)">s</text><text transform="translate(118.62 1360.00) scale(0.9705 0.9500)">i</text><text transform="translate(125.99 1360.00) scale(0.9705 0.9500)">u</text><text transform="translate(144.43 1360.00) scale(0.9705 0.9500)">m</text><text transform="translate(181.25 1360.00) scale(0.9705 1.0000)">0</text><text transform="translate(199.69 1360.00) scale(0.9705 0.9500)">m</text><text transform="translate(227.30 1360.00) scale(0.9705 0.9500)">g</text></g>
<g class="r" font-size="34.16"><text transform="translate(651.72 1360.00) scale(0.8880 1.0000)">0</text></g>
<path fill-rule="evenodd" d="M670.50 1342.45a5.26 5.26 0 1 0 10.52 0a5.26 5.26 0 1 0 -10.52 0ZM672.61 1342.45a3.15 3.13 0 1 0 6.30 0a3.15 3.13 0 1 0 -6.30 0ZM686.41 1354.20a5.39 5.19 0 1 0 10.79 0a5.39 5.19 0 1 0 -10.79 0ZM688.55 1354.20a3.26 3.03 0 1 0 6.51 0a3.26 3.03 0 1 0 -6.51 0ZM689.27 1336.00 691.11 1336.00 678.32 1359.70 676.05 1359.70Z"/>
<rect x="18" y="1375" width="681" height="12"/>
<text class="r" x="18.7" y="1413.1" font-size="19.1">*</text>
<g class="r" font-size="24.30"><text transform="translate(33.25 1417.40)">T</text><text transform="translate(48.10 1417.40) scale(1.0000 0.9500)">h</text><text transform="translate(61.61 1417.40) scale(1.0000 0.9500)">e</text></g>
<g class="r" font-size="24.30"><text transform="translate(85.36 1417.40)">%</text></g>
<g class="r" font-size="24.30"><text transform="translate(116.28 1417.40)">D</text><text transform="translate(133.83 1417.40) scale(1.0000 0.9500)">a</text><text transform="translate(147.35 1417.40) scale(1.0000 0.9500)">i</text><text transform="translate(152.74 1417.40) scale(1.0000 0.9500)">l</text><text transform="translate(158.14 1417.40) scale(1.0000 0.9500)">y</text></g>
<g class="r" font-size="24.30"><text transform="translate(182.32 1417.40)">V</text><text transform="translate(198.52 1417.40) scale(1.0000 0.9500)">a</text><text transform="translate(212.04 1417.40) scale(1.0000 0.9500)">l</text><text transform="translate(217.44 1417.40) scale(1.0000 0.9500)">u</text><text transform="translate(230.95 1417.40) scale(1.0000 0.9500)">e</text></g>
<g class="r" font-size="24.30"><text transform="translate(254.06 1417.40)">(</text><text transform="translate(262.15 1417.40)">D</text><text transform="translate(279.70 1417.40)">V</text><text transform="translate(295.91 1417.40)">)</text></g>
<g class="r" font-size="24.30"><text transform="translate(314.30 1417.40) scale(1.0000 0.9500)">t</text><text transform="translate(321.05 1417.40) scale(1.0000 0.9500)">e</text><text transform="translate(334.57 1417.40) scale(1.0000 0.9500)">l</text><text transform="translate(339.97 1417.40) scale(1.0000 0.9500)">l</text><text transform="translate(345.36 1417.40) scale(1.0000 0.9500)">s</text></g>
<g class="r" font-size="24.30"><text transform="translate(368.75 1417.40) scale(1.0000 0.9500)">y</text><text transform="translate(380.90 1417.40) scale(1.0000 0.9500)">o</text><text transform="translate(394.42 1417.40) scale(1.0000 0.9500)">u</text></g>
<g class="r" font-size="24.30"><text transform="translate(416.81 1417.40) scale(1.0000 0.9500)">h</text><text transform="translate(430.33 1417.40) scale(1.0000 0.9500)">o</text><text transform="translate(443.84 1417.40) scale(1.0000 0.9500)">w</text></g>
<g class="r" font-size="24.30"><text transform="translate(472.01 1417.40) scale(1.0000 0.9500)">m</text><text transform="translate(492.26 1417.40) scale(1.0000 0.9500)">u</text><text transform="translate(505.77 1417.40) scale(1.0000 0.9500)">c</text><text transform="translate(517.92 1417.40) scale(1.0000 0.9500)">h</text></g>
<g class="r" font-size="24.30"><text transform="translate(541.00 1417.40) scale(1.0000 0.9500)">a</text></g>
<g class="r" font-size="24.30"><text transform="translate(565.08 1417.40) scale(1.0000 0.9500)">n</text><text transform="translate(578.59 1417.40) scale(1.0000 0.9500)">u</text><text transform="translate(592.11 1417.40) scale(1.0000 0.9500)">t</text><text transform="translate(598.86 1417.40) scale(1.0000 0.9500)">r</text><text transform="translate(606.95 1417.40) scale(1.0000 0.9500)">i</text><text transform="translate(612.35 1417.40) scale(1.0000 0.9500)">e</text><text transform="translate(625.87 1417.40) scale(1.0000 0.9500)">n</text><text transform="translate(639.38 1417.40) scale(1.0000 0.9500)">t</text></g>
<g class="r" font-size="24.30"><text transform="translate(656.51 1417.40) scale(1.0000 0.9500)">i</text><text transform="translate(661.90 1417.40) scale(1.0000 0.9500)">n</text></g>
<g class="r" font-size="24.30"><text transform="translate(684.99 1417.40) scale(1.0000 0.9500)">a</text></g>
<g class="r" font-size="24.30"><text transform="translate(33.42 1447.30) scale(1.0000 0.9500)">s</text><text transform="translate(45.57 1447.30) scale(1.0000 0.9500)">e</text><text transform="translate(59.09 1447.30) scale(1.0000 0.9500)">r</text><text transform="translate(67.18 1447.30) scale(1.0000 0.9500)">v</text><text transform="translate(79.33 1447.30) scale(1.0000 0.9500)">i</text><text transform="translate(84.73 1447.30) scale(1.0000 0.9500)">n</text><text transform="translate(98.24 1447.30) scale(1.0000 0.9500)">g</text></g>
<g class="r" font-size="24.30"><text transform="translate(117.55 1447.30) scale(1.0000 0.9500)">o</text><text transform="translate(131.07 1447.30) scale(1.0000 0.9500)">f</text></g>
<g class="r" font-size="24.30"><text transform="translate(145.89 1447.30) scale(1.0000 0.9500)">f</text><text transform="translate(152.64 1447.30) scale(1.0000 0.9500)">o</text><text transform="translate(166.15 1447.30) scale(1.0000 0.9500)">o</text><text transform="translate(179.67 1447.30) scale(1.0000 0.9500)">d</text></g>
<g class="r" font-size="24.30"><text transform="translate(198.96 1447.30) scale(1.0000 0.9500)">c</text><text transform="translate(211.11 1447.30) scale(1.0000 0.9500)">o</text><text transform="translate(224.63 1447.30) scale(1.0000 0.9500)">n</text><text transform="translate(238.14 1447.30) scale(1.0000 0.9500)">t</text><text transform="translate(244.89 1447.30) scale(1.0000 0.9500)">r</text><text transform="translate(252.99 1447.30) scale(1.0000 0.9500)">i</text><text transform="translate(258.38 1447.30) scale(1.0000 0.9500)">b</text><text transform="translate(271.90 1447.30) scale(1.0000 0.9500)">u</text><text transform="translate(285.41 1447.30) scale(1.0000 0.9500)">t</text><text transform="translate(292.16 1447.30) scale(1.0000 0.9500)">e</text><text transform="translate(305.68 1447.30) scale(1.0000 0.9500)">s</text></g>
<g class="r" font-size="24.30"><text transform="translate(324.96 1447.30) scale(1.0000 0.9500)">t</text><text transform="translate(331.71 1447.30) scale(1.0000 0.9500)">o</text></g>
<g class="r" font-size="24.30"><text transform="translate(351.56 1447.30) scale(1.0000 0.9500)">a</text></g>
<g class="r" font-size="24.30"><text transform="translate(372.43 1447.30) scale(1.0000 0.9500)">d</text><text transform="translate(385.94 1447.30) scale(1.0000 0.9500)">a</text><text transform="translate(399.46 1447.30) scale(1.0000 0.9500)">i</text><text transform="translate(404.86 1447.30) scale(1.0000 0.9500)">l</text><text transform="translate(410.26 1447.30) scale(1.0000 0.9500)">y</text></g>
<g class="r" font-size="24.30"><text transform="translate(429.72 1447.30) scale(1.0000 0.9500)">d</text><text transform="translate(443.23 1447.30) scale(1.0000 0.9500)">i</text><text transform="translate(448.63 1447.30) scale(1.0000 0.9500)">e</text><text transform="translate(462.14 1447.30) scale(1.0000 0.9500)">t</text><text transform="translate(468.90 1447.30)">.</text></g>
<g class="r" font-size="24.30"><text transform="translate(480.59 1447.30)">2</text><text transform="translate(494.10 1447.30)">,</text><text transform="translate(500.85 1447.30)">0</text><text transform="translate(514.37 1447.30)">0</text><text transform="translate(527.88 1447.30)">0</text></g>
<g class="r" font-size="24.30"><text transform="translate(547.79 1447.30) scale(1.0000 0.9500)">c</text><text transform="translate(559.94 1447.30) scale(1.0000 0.9500)">a</text><text transform="translate(573.46 1447.30) scale(1.0000 0.9500)">l</text><text transform="translate(578.86 1447.30) scale(1.0000 0.9500)">o</text><text transform="translate(592.37 1447.30) scale(1.0000 0.9500)">r</text><text transform="translate(600.46 1447.30) scale(1.0000 0.9500)">i</text><text transform="translate(605.86 1447.30) scale(1.0000 0.9500)">e</text><text transform="translate(619.38 1447.30) scale(1.0000 0.9500)">s</text></g>
<g class="r" font-size="24.30"><text transform="translate(637.99 1447.30) scale(1.0000 0.9500)">a</text></g>
<g class="r" font-size="24.30"><text transform="translate(658.87 1447.30) scale(1.0000 0.9500)">d</text><text transform="translate(672.38 1447.30) scale(1.0000 0.9500)">a</text><text transform="translate(685.90 1447.30) scale(1.0000 0.9500)">y</text></g>
<g class="r" font-size="24.30"><text transform="translate(32.19 1477.30) scale(0.9898 0.9500)">i</text><text transform="translate(37.53 1477.30) scale(0.9898 0.9500)">s</text><text transform="translate(56.24 1477.30) scale(0.9898 0.9500)">u</text><text transform="translate(69.62 1477.30) scale(0.9898 0.9500)">s</text><text transform="translate(81.64 1477.30) scale(0.9898 0.9500)">e</text><text transform="translate(95.02 1477.30) scale(0.9898 0.9500)">d</text><text transform="translate(115.08 1477.30) scale(0.9898 0.9500)">f</text><text transform="translate(121.76 1477.30) scale(0.9898 0.9500)">o</text><text transform="translate(135.14 1477.30) scale(0.9898 0.9500)">r</text><text transform="translate(149.83 1477.30) scale(0.9898 0.9500)">g</text><text transform="translate(163.20 1477.30) scale(0.9898 0.9500)">e</text><text transform="translate(176.58 1477.30) scale(0.9898 0.9500)">n</text><text transform="translate(189.96 1477.30) scale(0.9898 0.9500)">e</text><text transform="translate(203.33 1477.30) scale(0.9898 0.9500)">r</text><text transform="translate(211.34 1477.30) scale(0.9898 0.9500)">a</text><text transform="translate(224.72 1477.30) scale(0.9898 0.9500)">l</text><text transform="translate(236.74 1477.30) scale(0.9898 0.9500)">n</text><text transform="translate(250.12 1477.30) scale(0.9898 0.9500)">u</text><text transform="translate(263.50 1477.30) scale(0.9898 0.9500)">t</text><text transform="translate(270.18 1477.30) scale(0.9898 0.9500)">r</text><text transform="translate(278.19 1477.30) scale(0.9898 0.9500)">i</text><text transform="translate(283.53 1477.30) scale(0.9898 0.9500)">t</text><text transform="translate(290.21 1477.30) scale(0.9898 0.9500)">i</text><text transform="translate(295.56 1477.30) scale(0.9898 0.9500)">o</text><text transform="translate(308.93 1477.30) scale(0.9898 0.9500)">n</text><text transform="translate(328.99 1477.30) scale(0.9898 0.9500)">a</text><text transform="translate(342.37 1477.30) scale(0.9898 0.9500)">d</text><text transform="translate(355.74 1477.30) scale(0.9898 0.9500)">v</text><text transform="translate(367.77 1477.30) scale(0.9898 0.9500)">i</text><text transform="translate(373.11 1477.30) scale(0.9898 0.9500)">c</text><text transform="translate(385.14 1477.30) scale(0.9898 0.9500)">e</text><text transform="translate(398.51 1477.30) scale(0.9898 1.0000)">.</text></g>
<g class="r" font-size="34.16"><text transform="translate(3.22 1561.50) scale(0.9757 1.0000)">I</text><text transform="translate(12.48 1561.50) scale(0.9757 1.0000)">N</text><text transform="translate(36.55 1561.50) scale(0.9757 1.0000)">G</text><text transform="translate(62.47 1561.50) scale(0.9757 1.0000)">R</text><text transform="translate(86.54 1561.50) scale(0.9757 1.0000)">E</text><text transform="translate(108.77 1561.50) scale(0.9757 1.0000)">D</text><text transform="translate(132.84 1561.50) scale(0.9757 1.0000)">I</text><text transform="translate(142.10 1561.50) scale(0.9757 1.0000)">E</text><text transform="translate(164.33 1561.50) scale(0.9757 1.0000)">N</text><text transform="translate(188.40 1561.50) scale(0.9757 1.0000)">T</text><text transform="translate(208.75 1561.50) scale(0.9757 1.0000)">S</text><text transform="translate(230.98 1561.50) scale(0.9757 1.0000)">:</text></g>
<g class="r" font-size="34.16"><text transform="translate(254.24 1561.50) scale(0.9643 1.0000)">O</text><text transform="translate(279.86 1561.50) scale(0.9643 1.0000)">R</text><text transform="translate(303.64 1561.50) scale(0.9643 1.0000)">G</text><text transform="translate(329.26 1561.50) scale(0.9643 1.0000)">A</text><text transform="translate(351.23 1561.50) scale(0.9643 1.0000)">N</text><text transform="translate(375.02 1561.50) scale(0.9643 1.0000)">I</text><text transform="translate(384.17 1561.50) scale(0.9643 1.0000)">C</text></g>
<g class="r" font-size="34.16"><text transform="translate(424.95 1561.50) scale(0.9805 1.0000)">B</text><text transform="translate(447.29 1561.50) scale(0.9805 1.0000)">R</text><text transform="translate(471.48 1561.50) scale(0.9805 1.0000)">O</text><text transform="translate(497.53 1561.50) scale(0.9805 1.0000)">W</text><text transform="translate(529.14 1561.50) scale(0.9805 1.0000)">N</text></g>
<g class="r" font-size="34.16"><text transform="translate(568.89 1561.50) scale(0.9682 1.0000)">B</text><text transform="translate(590.94 1561.50) scale(0.9682 1.0000)">A</text><text transform="translate(613.00 1561.50) scale(0.9682 1.0000)">S</text><text transform="translate(635.06 1561.50) scale(0.9682 1.0000)">M</text><text transform="translate(662.61 1561.50) scale(0.9682 1.0000)">A</text><text transform="translate(684.66 1561.50) scale(0.9682 1.0000)">T</text><text transform="translate(704.86 1561.50) scale(0.9682 1.0000)">I</text></g>
<g class="r" font-size="34.45"><text transform="translate(3.64 1601.00) scale(0.9424 1.0000)">R</text><text transform="translate(27.08 1601.00) scale(0.9424 1.0000)">I</text><text transform="translate(36.10 1601.00) scale(0.9424 1.0000)">C</text><text transform="translate(59.54 1601.00) scale(0.9424 1.0000)">E</text></g>
</svg>
</body></html>
